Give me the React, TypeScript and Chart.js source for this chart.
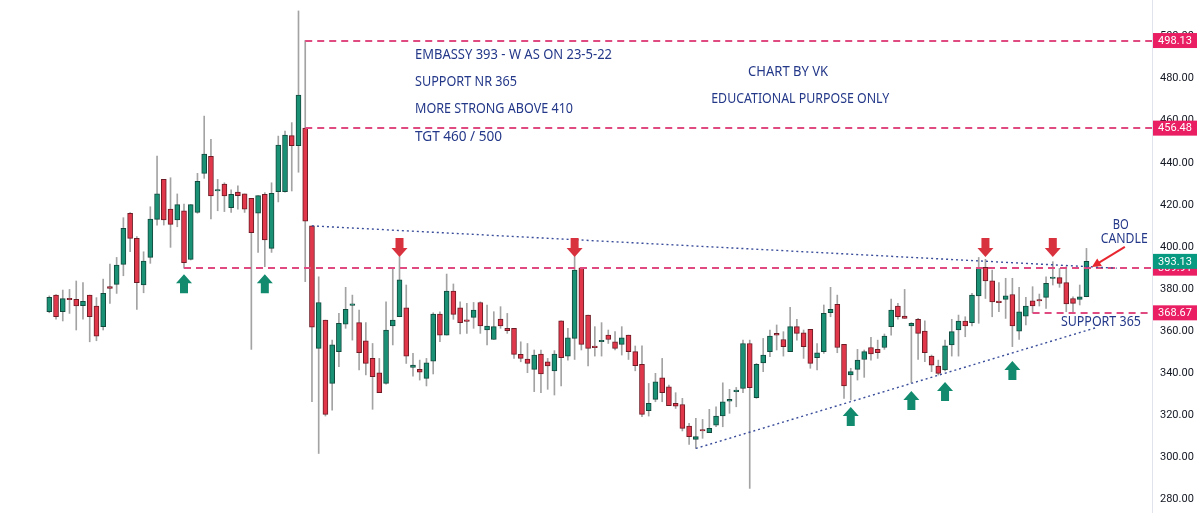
import React, { useEffect, useRef } from "react";
import { Chart, registerables } from "chart.js";
Chart.register(...registerables);

// ---- candle data (weekly) ----
const opens = [
  369.2, 377.1, 369.2, 375.4, 375.1, 372.1, 377.1, 371.9, 362.1, 381.1,
  382.2, 391.7, 416.0, 404.1, 381.9, 395.0, 413.1, 432.1, 418.0, 412.8,
  417.2, 394.1, 416.4, 435.0, 443.1, 426.6, 429.9, 418.7, 426.1, 425.2,
  423.1, 416.0, 425.0, 399.3, 426.3, 426.3, 452.9, 448.1, 456.48, 410.0,
  351.8, 365.2, 335.1, 350.2, 363.3, 372.2, 364.0, 355.3, 347.0, 340.2,
  335.1, 362.4, 366.8, 371.1, 342.7, 341.8, 337.5, 345.7, 368.1, 358.1,
  379.0, 371.1, 364.9, 366.5, 373.6, 360.5, 356.0, 365.7, 361.3, 361.3,
  348.9, 346.7, 341.8, 349.1, 345.4, 341.1, 364.9, 348.1, 356.5, 390.1,
  367.6, 352.6, 354.9, 358.1, 354.9, 353.7, 358.1, 350.2, 344.2, 322.1,
  327.5, 337.8, 333.5, 325.6, 325.1, 314.8, 308.5, 312.9, 311.7, 315.3,
  319.6, 326.7, 331.2, 332.7, 354.1, 328.3, 344.9, 350.2, 358.9, 356.0,
  350.2, 362.1, 359.2, 360.8, 347.3, 350.2, 368.7, 372.7, 353.7, 339.1,
  341.8, 346.5, 352.2, 351.3, 352.2, 362.1, 371.9, 367.1, 362.4, 365.6,
  360.0, 348.1, 343.4, 341.5, 353.4, 360.5, 364.8, 364.0, 376.7, 390.3,
  383.9, 373.9, 375.1, 377.4, 360.0, 367.1, 374.4, 374.7, 376.0, 385.0,
  385.4, 383.0, 375.5, 375.1, 376.3,
];
const highs = [
  376.7, 377.4, 379.5, 379.8, 383.8, 383.0, 377.1, 375.9, 384.7, 391.9,
  395.0, 413.9, 416.3, 404.9, 397.7, 419.1, 443.2, 432.1, 432.9, 425.2,
  420.4, 420.2, 435.0, 462.2, 451.1, 432.1, 430.5, 427.1, 429.0, 425.2,
  423.1, 424.4, 425.8, 430.5, 452.7, 455.1, 459.1, 512.2, 498.13, 410.0,
  385.8, 365.2, 355.7, 368.4, 380.8, 377.1, 370.0, 364.0, 354.1, 347.0,
  373.9, 390.1, 395.4, 381.9, 349.4, 346.2, 347.0, 368.7, 369.2, 387.1,
  382.4, 373.9, 373.2, 373.6, 373.9, 372.4, 369.2, 371.6, 368.4, 361.3,
  354.9, 354.1, 351.0, 351.0, 347.0, 350.7, 364.9, 361.3, 395.4, 390.1,
  367.6, 362.1, 364.0, 360.5, 359.7, 362.1, 358.1, 352.9, 353.0, 335.1,
  339.9, 347.0, 334.3, 330.7, 328.0, 316.1, 318.5, 318.0, 322.8, 324.0,
  335.4, 332.3, 333.2, 355.7, 355.7, 344.6, 356.5, 360.5, 362.9, 359.7,
  371.3, 365.6, 360.5, 360.8, 354.1, 372.4, 380.8, 377.1, 353.7, 342.3,
  351.3, 351.0, 357.0, 355.7, 358.6, 375.2, 373.2, 379.8, 364.0, 366.0,
  364.9, 348.6, 346.2, 355.7, 365.6, 367.6, 366.8, 377.9, 395.0, 394.1,
  389.0, 383.0, 385.1, 385.1, 380.8, 376.0, 381.1, 377.6, 385.8, 393.0,
  389.8, 390.6, 376.3, 381.9, 399.3,
];
const lows = [
  368.7, 365.6, 364.8, 368.4, 360.5, 365.6, 354.9, 355.4, 360.5, 373.2,
  377.9, 386.3, 397.7, 370.3, 378.2, 392.2, 410.4, 410.4, 399.8, 409.6,
  389.91, 393.8, 416.0, 432.6, 413.3, 417.2, 416.8, 416.4, 417.9, 416.4,
  351.3, 397.4, 390.6, 397.4, 421.4, 426.0, 426.6, 435.5, 383.5, 326.4,
  301.8, 319.6, 322.4, 343.1, 361.3, 355.7, 341.5, 339.1, 322.8, 330.7,
  334.8, 353.4, 366.8, 344.6, 338.6, 336.7, 333.9, 339.6, 354.9, 358.1,
  365.6, 358.6, 358.9, 361.3, 358.9, 353.4, 356.0, 361.3, 358.9, 347.0,
  345.4, 340.2, 331.2, 330.7, 332.3, 329.6, 333.9, 346.2, 346.5, 351.0,
  343.4, 348.1, 348.1, 354.1, 351.0, 348.6, 346.5, 341.1, 319.3, 319.6,
  326.4, 326.4, 324.5, 323.2, 312.5, 306.1, 304.2, 309.0, 311.7, 314.5,
  314.5, 320.9, 324.0, 330.7, 285.2, 328.0, 340.7, 347.8, 351.0, 348.1,
  350.2, 355.7, 347.0, 342.3, 341.5, 349.4, 366.8, 349.7, 328.0, 327.2,
  336.7, 338.0, 346.2, 347.0, 351.3, 358.1, 365.6, 366.0, 335.4, 346.5,
  345.4, 340.7, 339.1, 341.1, 348.1, 348.1, 357.3, 362.4, 363.7, 375.5,
  366.8, 369.2, 366.0, 352.6, 356.0, 362.9, 368.67, 371.9, 370.8, 381.9,
  380.8, 369.2, 369.2, 372.4, 376.3,
];
const closes = [
  376.0, 366.8, 375.4, 374.9, 371.9, 374.1, 366.8, 357.6, 377.9, 380.3,
  391.4, 408.8, 404.1, 383.0, 393.3, 413.3, 425.3, 412.8, 410.7, 420.1,
  392.5, 420.1, 431.2, 444.2, 424.2, 427.1, 424.2, 425.0, 424.4, 417.9,
  406.8, 424.4, 403.3, 425.5, 448.4, 453.2, 448.1, 472.2, 412.3, 361.8,
  373.6, 320.4, 353.4, 363.7, 370.3, 372.8, 349.7, 344.6, 338.3, 330.7,
  360.5, 365.2, 384.3, 348.1, 343.8, 340.4, 344.9, 368.1, 358.1, 379.0,
  367.9, 364.0, 364.6, 370.0, 362.4, 362.4, 362.1, 362.5, 360.2, 348.9,
  347.0, 344.6, 348.6, 339.6, 343.4, 349.1, 347.3, 356.8, 389.0, 353.7,
  351.8, 352.1, 355.3, 356.0, 351.8, 356.8, 350.2, 343.5, 320.4, 325.6,
  335.9, 330.7, 324.5, 324.3, 313.7, 309.8, 309.8, 312.5, 313.7, 319.6,
  326.4, 327.5, 331.6, 354.1, 333.1, 344.2, 348.6, 357.6, 358.1, 352.6,
  362.1, 358.9, 352.6, 344.6, 349.7, 368.4, 370.3, 352.2, 333.9, 340.7,
  346.2, 350.2, 349.1, 349.7, 357.6, 370.0, 366.8, 366.0, 363.7, 358.9,
  349.7, 343.8, 339.9, 353.0, 359.7, 364.8, 362.4, 377.1, 390.3, 383.8,
  373.9, 373.5, 376.7, 362.4, 369.2, 371.9, 371.9, 374.3, 382.7, 385.5,
  382.7, 372.9, 373.2, 376.3, 393.13,
];

// ---- axis ----
const priceMin = 273.5;
const priceMax = 517.4;
const tickStep = 20;
const indexMin = -7.32;
const indexMax = 163.73;

// ---- drawings ----
const levelPrices = [498.13, 456.48, 389.91, 368.67];
const levelStartIdx = [38, 38, 20, 146];
const levelBoxColors = ["#e91e63", "#e91e63", "#e91e63", "#e91e63"];
const lastPrice = 393.13;

const trendFromIdx = [39, 96];
const trendFromPrice = [410.0, 304.2];
const trendToIdx = [158.5, 155.3];
const trendToPrice = [389.9, 361.5];

const upArrowIdx = [20, 32, 119, 128, 133, 143];
const upArrowTop = [387.0, 387.0, 323.9, 331.5, 335.8, 345.8];
const downArrowIdx = [52, 78, 139, 149];
const downArrowTip = [395.2, 395.2, 395.2, 395.2];

const pointerFrom = [159.7, 400.0];
const pointerTo = [154.8, 390.5];

const noteText = [
  "EMBASSY 393 - W AS ON 23-5-22",
  "SUPPORT NR 365",
  "MORE STRONG ABOVE 410",
  "TGT 460 / 500",
  "CHART BY VK",
  "EDUCATIONAL PURPOSE ONLY",
  "BO",
  "CANDLE",
  "SUPPORT 365",
];
const noteIdx = [54.3, 54.3, 54.3, 54.3, 109.7, 111.5, 159.1, 159.6, 150.2];
const notePrice = [491.3, 478.4, 465.6, 452.3, 483.2, 470.3, 410.4, 403.7, 364.5];
const noteAlign = ["left", "left", "left", "left", "center", "center", "center", "center", "left"];
const noteWidth = [197, 102, 158, 87, 80, 178, 16, 47, 80];

const UP = "#1a9175";
const DOWN = "#e0374b";
const UP_BORDER = "#12493d";
const DOWN_BORDER = "#6d1b24";
const TEXT_BLUE = "#243889";

const drawingsPlugin = {
  id: "drawings",
  afterDatasetsDraw(chart: any) {
    const { ctx, chartArea } = chart;
    const x = chart.scales.x;
    const y = chart.scales.y;
    ctx.save();
    ctx.beginPath();
    ctx.rect(chartArea.left, chartArea.top, chartArea.width, chartArea.height);
    ctx.clip();

    // dashed horizontal levels
    ctx.strokeStyle = "#df4b80";
    ctx.lineWidth = 2;
    ctx.setLineDash([7, 5]);
    levelPrices.forEach((p, i) => {
      const py = Math.round(y.getPixelForValue(p));
      ctx.beginPath();
      ctx.moveTo(x.getPixelForValue(levelStartIdx[i]), py);
      ctx.lineTo(chartArea.right, py);
      ctx.stroke();
    });

    // dotted trend lines
    ctx.strokeStyle = "#3a4d9a";
    ctx.lineWidth = 1.4;
    ctx.setLineDash([2, 3]);
    trendFromIdx.forEach((_, i) => {
      ctx.beginPath();
      ctx.moveTo(x.getPixelForValue(trendFromIdx[i]), y.getPixelForValue(trendFromPrice[i]));
      ctx.lineTo(x.getPixelForValue(trendToIdx[i]), y.getPixelForValue(trendToPrice[i]));
      ctx.stroke();
    });
    ctx.setLineDash([]);

    // up arrows
    ctx.fillStyle = "#118a6e";
    upArrowIdx.forEach((idx, i) => {
      const cx = x.getPixelForValue(idx);
      const t = y.getPixelForValue(upArrowTop[i]);
      ctx.beginPath();
      ctx.moveTo(cx, t);
      ctx.lineTo(cx + 8, t + 9);
      ctx.lineTo(cx + 4, t + 9);
      ctx.lineTo(cx + 4, t + 19);
      ctx.lineTo(cx - 4, t + 19);
      ctx.lineTo(cx - 4, t + 9);
      ctx.lineTo(cx - 8, t + 9);
      ctx.closePath();
      ctx.fill();
    });
    // down arrows
    ctx.fillStyle = "#d9323f";
    downArrowIdx.forEach((idx, i) => {
      const cx = x.getPixelForValue(idx);
      const b = y.getPixelForValue(downArrowTip[i]);
      ctx.beginPath();
      ctx.moveTo(cx, b);
      ctx.lineTo(cx + 8, b - 9);
      ctx.lineTo(cx + 4, b - 9);
      ctx.lineTo(cx + 4, b - 19);
      ctx.lineTo(cx - 4, b - 19);
      ctx.lineTo(cx - 4, b - 9);
      ctx.lineTo(cx - 8, b - 9);
      ctx.closePath();
      ctx.fill();
    });

    // red pointer arrow
    const px0 = x.getPixelForValue(pointerFrom[0]);
    const py0 = y.getPixelForValue(pointerFrom[1]);
    const px1 = x.getPixelForValue(pointerTo[0]);
    const py1 = y.getPixelForValue(pointerTo[1]);
    const ang = Math.atan2(py1 - py0, px1 - px0);
    ctx.strokeStyle = "#e8262f";
    ctx.fillStyle = "#e8262f";
    ctx.lineWidth = 2;
    ctx.beginPath();
    ctx.moveTo(px0, py0);
    ctx.lineTo(px1 - 6 * Math.cos(ang), py1 - 6 * Math.sin(ang));
    ctx.stroke();
    ctx.beginPath();
    ctx.moveTo(px1, py1);
    ctx.lineTo(px1 - 9 * Math.cos(ang) + 4.5 * Math.sin(ang), py1 - 9 * Math.sin(ang) - 4.5 * Math.cos(ang));
    ctx.lineTo(px1 - 9 * Math.cos(ang) - 4.5 * Math.sin(ang), py1 - 9 * Math.sin(ang) + 4.5 * Math.cos(ang));
    ctx.closePath();
    ctx.fill();

    // notes
    ctx.fillStyle = TEXT_BLUE;
    ctx.font = '14px "Noto Sans"';
    ctx.textBaseline = "middle";
    noteText.forEach((t, i) => {
      ctx.textAlign = noteAlign[i];
      ctx.fillText(t, x.getPixelForValue(noteIdx[i]), y.getPixelForValue(notePrice[i]), noteWidth[i]);
    });
    ctx.restore();
  },
  afterDraw(chart: any) {
    const { ctx, chartArea } = chart;
    const y = chart.scales.y;
    const boxLeft = chartArea.right + 1;
    const boxW = 44;
    const boxH = 15;
    const drawBox = (p: number, color: string) => {
      const py = y.getPixelForValue(p);
      ctx.fillStyle = color;
      ctx.fillRect(boxLeft, py - boxH / 2, boxW, boxH);
      ctx.fillStyle = "#ffffff";
      ctx.font = '11px "Roboto"';
      ctx.textAlign = "center";
      ctx.textBaseline = "middle";
      ctx.fillText(p.toFixed(2), boxLeft + boxW / 2, py + 0.5);
    };
    ctx.save();
    levelPrices.forEach((p, i) => drawBox(p, levelBoxColors[i]));
    drawBox(lastPrice, "#089981");
    ctx.restore();
  },
};

export default function App() {
  const ref = useRef<HTMLCanvasElement | null>(null);
  useEffect(() => {
    document.body.style.margin = "0";
    const idx = opens.map((_, i) => i);
    const bodies = idx.map((i) => ({ x: i, y: [opens[i], closes[i]] }));
    const wicks = idx.map((i) => ({ x: i, y: [lows[i], highs[i]] }));
    const isUp = idx.map((i) => closes[i] >= opens[i]);
    const chart = new Chart(ref.current as HTMLCanvasElement, {
      type: "bar",
      data: {
        datasets: [
          {
            data: bodies as any,
            backgroundColor: isUp.map((u) => (u ? UP : DOWN)),
            borderColor: isUp.map((u) => (u ? UP_BORDER : DOWN_BORDER)),
            borderWidth: 1,
            borderSkipped: false,
            barThickness: 5,
            minBarLength: 1.5,
            order: 0,
          },
          {
            data: wicks as any,
            backgroundColor: "#a3a3a3",
            borderWidth: 0,
            barThickness: 1,
            order: 1,
          },
        ],
      },
      options: {
        animation: false,
        responsive: false,
        devicePixelRatio: 1,
        layout: { padding: 0 },
        datasets: { bar: { grouped: false } } as any,
        plugins: { legend: { display: false }, tooltip: { enabled: false } },
        scales: {
          x: {
            type: "linear",
            display: false,
            offset: false,
            min: indexMin,
            max: indexMax,
            grid: { display: false },
          },
          y: {
            position: "right",
            min: priceMin,
            max: priceMax,
            grid: { display: false, drawTicks: false },
            border: { display: true, color: "#e0e3eb" },
            ticks: {
              stepSize: tickStep,
              includeBounds: false,
              padding: 8,
              color: "#131722",
              font: { size: 11, family: "Roboto" },
              callback: (v: any) => Number(v).toFixed(2),
            },
            afterFit: (s: any) => {
              s.width = 48;
              s.paddingTop = 0;
              s.paddingBottom = 0;
            },
          },
        },
      },
      plugins: [drawingsPlugin],
    });
    return () => chart.destroy();
  }, []);
  return (
    <div style={{ position: "fixed", left: 0, top: 0, width: 1200, height: 513, background: "#ffffff" }}>
      <canvas ref={ref} width={1200} height={513} />
    </div>
  );
}
